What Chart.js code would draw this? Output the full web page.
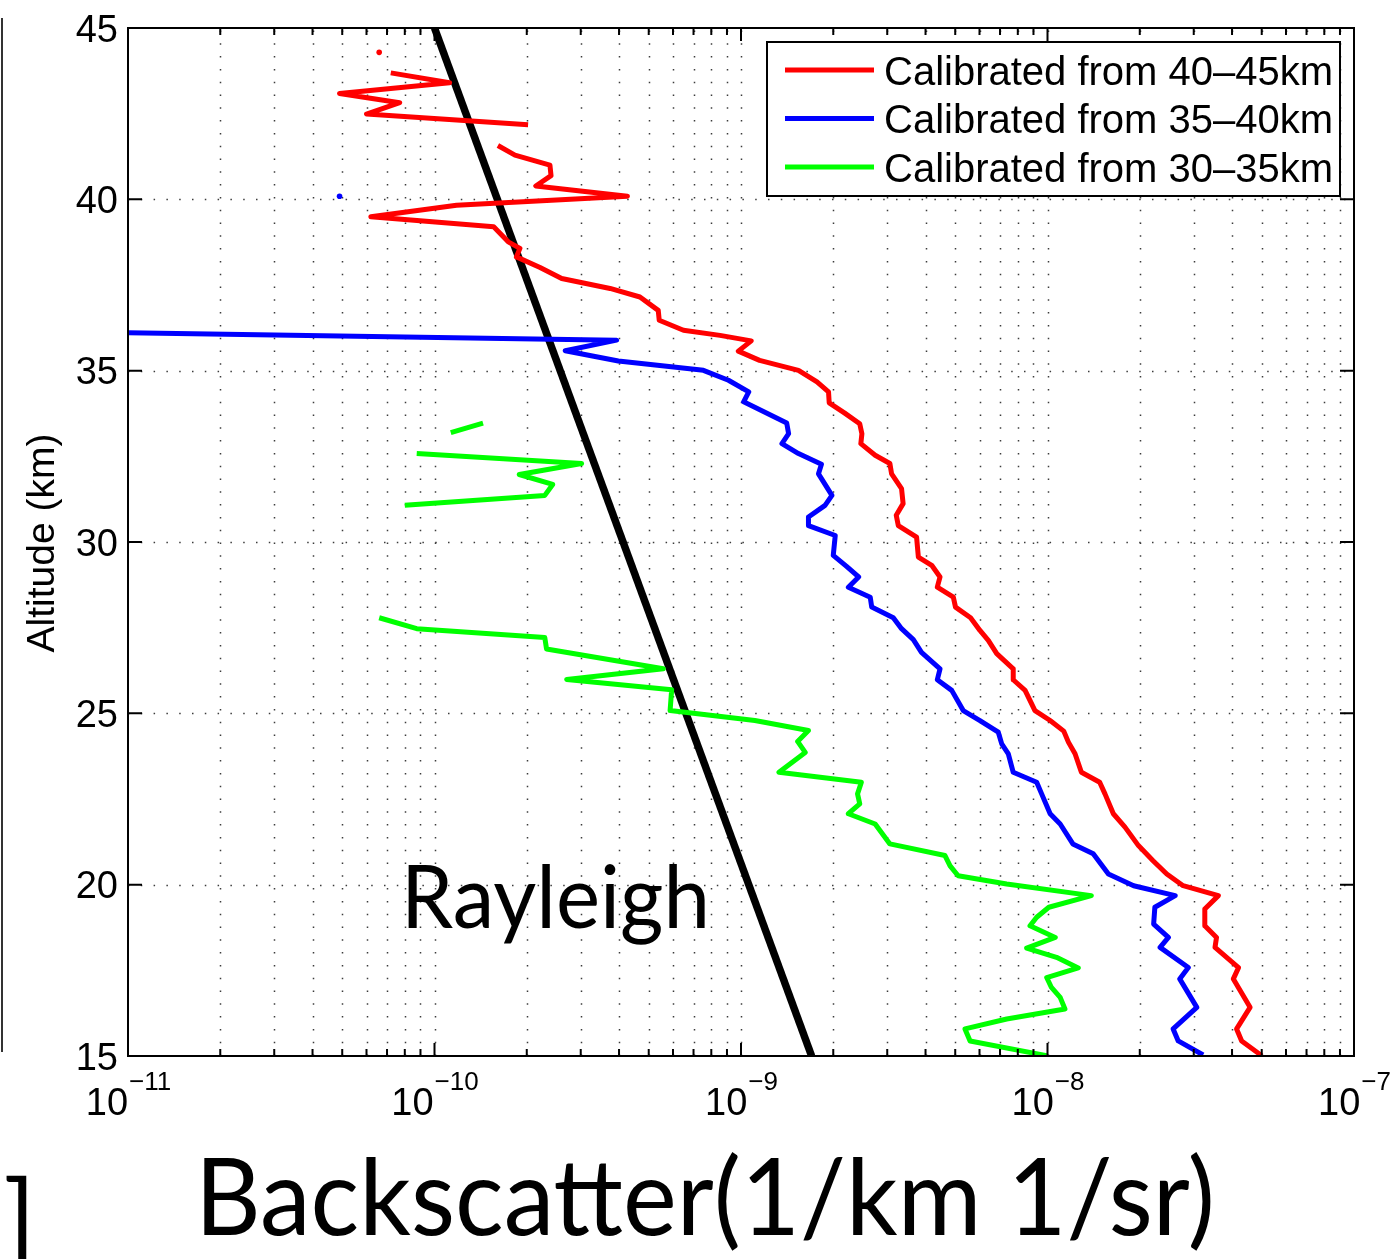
<!DOCTYPE html>
<html>
<head>
<meta charset="utf-8">
<title>Backscatter profile</title>
<script src="https://cdn.jsdelivr.net/npm/chart.js@4.4.1/dist/chart.umd.min.js"></script>
<style>
  html, body { margin: 0; padding: 0; background: #fff; }
  canvas { display: block; }
</style>
</head>
<body>
<canvas id="profile-chart" width="1400" height="1259"></canvas>
<script>
// -----------------------------------------------------------------
// Profiles: altitude (km) against backscatter (1/km 1/sr).
// null marks a gap in the profile (negative / missing samples).
// -----------------------------------------------------------------
const redAlt = [44.29, null,
  43.69, 43.40, 43.09, 42.82, 42.49, 42.18, null,
  41.57, 41.29, 41.00, 40.69, 40.39, 40.09, 39.83, 39.49, 39.20, 38.76,
  38.57, 38.32, 38.01, 37.69, 37.40, 37.15, 36.76, 36.47, 36.18, 36.03,
  35.87, 35.57, 35.30, 35.01, 34.67, 34.38, 34.06, 33.76, 33.45, 33.16,
  32.87, 32.53, 32.29, 31.99, 31.56, 31.12, 30.78, 30.48, 30.14, 29.56,
  29.32, 28.98, 28.68, 28.39, 28.10, 27.79, 27.42, 27.13, 26.74, 26.30,
  25.98, 25.67, 25.08, 24.79, 24.48, 24.16, 23.82, 23.28, 22.99, 22.65,
  22.07, 21.68, 21.14, 20.70, 20.31, 19.97, 19.68, 19.29, 18.80, 18.46,
  18.17, 17.58, 17.25, 16.42, 15.79, 15.44, 15.01];
const redVal = [6.6e-11, null,
  7.2e-11, 1.12e-10, 4.9e-11, 7.7e-11, 6.0e-11, 2.02e-10, null,
  1.61e-10, 1.83e-10, 2.38e-10, 2.40e-10, 2.14e-10, 4.26e-10, 1.18e-10, 6.2e-11, 1.56e-10, 1.74e-10,
  1.90e-10, 1.85e-10, 2.21e-10, 2.60e-10, 3.74e-10, 4.68e-10, 5.37e-10, 5.41e-10, 6.49e-10, 8.54e-10,
  1.08e-9, 9.8e-10, 1.15e-9, 1.54e-9, 1.77e-9, 1.93e-9, 1.94e-9, 2.18e-9, 2.44e-9, 2.48e-9,
  2.46e-9, 2.74e-9, 3.06e-9, 3.10e-9, 3.34e-9, 3.38e-9, 3.21e-9, 3.26e-9, 3.74e-9, 3.79e-9,
  4.19e-9, 4.46e-9, 4.37e-9, 4.93e-9, 5.01e-9, 5.61e-9, 6.02e-9, 6.41e-9, 6.83e-9, 7.73e-9,
  7.73e-9, 8.45e-9, 9.1e-9, 1.02e-8, 1.13e-8, 1.17e-8, 1.23e-8, 1.29e-8, 1.48e-8, 1.54e-8,
  1.64e-8, 1.79e-8, 1.98e-8, 2.21e-8, 2.45e-8, 2.77e-8, 3.61e-8, 3.26e-8, 3.26e-8, 3.56e-8,
  3.52e-8, 4.20e-8, 4.04e-8, 4.58e-8, 4.14e-8, 4.30e-8, 5.0e-8];

const blueAlt = [40.09, null,
  36.11, 35.89, 35.58, 35.28, 35.01, 34.72, 34.38, 34.09, 33.47, 33.16,
  32.87, 32.58, 32.27, 31.99, 31.36, 31.07, 30.73, 30.48, 30.19, 29.61,
  29.29, 28.98, 28.68, 28.39, 28.10, 27.79, 27.47, 27.15, 26.78, 26.30,
  25.98, 25.67, 25.08, 24.79, 24.45, 24.11, 23.82, 23.28, 22.99, 22.65,
  22.07, 21.77, 21.19, 20.90, 20.31, 19.97, 19.68, 19.34, 18.85, 18.46,
  18.17, 17.58, 17.25, 16.42, 15.79, 15.44, 15.03];
const blueVal = [4.9e-11, null,
  1.0e-11, 3.93e-10, 2.67e-10, 3.98e-10, 7.54e-10, 9.1e-10, 1.06e-9, 1.02e-9, 1.41e-9, 1.43e-9,
  1.36e-9, 1.54e-9, 1.83e-9, 1.79e-9, 1.98e-9, 1.88e-9, 1.66e-9, 1.66e-9, 2.03e-9, 2.00e-9,
  2.21e-9, 2.42e-9, 2.24e-9, 2.64e-9, 2.67e-9, 3.14e-9, 3.34e-9, 3.65e-9, 3.88e-9, 4.46e-9,
  4.37e-9, 4.87e-9, 5.31e-9, 6.02e-9, 6.91e-9, 7.09e-9, 7.45e-9, 7.73e-9, 9.22e-9, 9.57e-9,
  1.02e-8, 1.10e-8, 1.21e-8, 1.41e-8, 1.58e-8, 1.91e-8, 2.61e-8, 2.24e-8, 2.22e-8, 2.48e-8,
  2.33e-8, 2.88e-8, 2.70e-8, 3.07e-8, 2.57e-8, 2.67e-8, 3.22e-8];

const greenAlt = [33.47, 33.19, null,
  32.58, 32.29, 31.97, 31.68, 31.36, 31.07, null,
  27.79, 27.47, 27.21, 26.88, 26.30, 25.99, 25.69, 25.08, 24.79, 24.50,
  24.18, 23.86, 23.28, 22.99, 22.65, 22.36, 22.07, 21.77, 21.19, 20.85,
  20.55, 20.26, 20.02, 19.68, 19.34, 19.05, 18.80, 18.46, 18.15, 17.88,
  17.57, 17.29, 17.00, 16.71, 16.37, 16.08, 15.79, 15.44, 15.01];
const greenVal = [1.44e-10, 1.13e-10, null,
  8.75e-11, 3.02e-10, 1.89e-10, 2.43e-10, 2.29e-10, 8.0e-11, null,
  6.6e-11, 8.75e-11, 2.29e-10, 2.32e-10, 5.58e-10, 2.70e-10, 5.94e-10, 5.87e-10, 1.11e-9, 1.66e-9,
  1.53e-9, 1.62e-9, 1.33e-9, 2.47e-9, 2.40e-9, 2.44e-9, 2.24e-9, 2.74e-9, 3.06e-9, 4.63e-9,
  4.81e-9, 5.11e-9, 7.36e-9, 1.39e-8, 1.01e-8, 9.22e-9, 8.77e-9, 1.06e-8, 8.55e-9, 1.07e-8,
  1.26e-8, 9.94e-9, 1.03e-8, 1.10e-8, 1.14e-8, 7.36e-9, 5.38e-9, 5.59e-9, 9.94e-9];

// molecular (Rayleigh) backscatter, straight in log space
const rayleighAlt = [45, 15];
const rayleighVal = [1.0e-10, 1.7e-9];

const seriesLabels = ["Calibrated from 40\u201345km", "Calibrated from 35\u201340km", "Calibrated from 30\u201335km"];
const seriesColors = ["#ff0000", "#0000ff", "#00ff00"];

// axis ticks
const altTicks = [15, 20, 25, 30, 35, 40, 45];
const decadeExps = [-11, -10, -9, -8, -7];
const minorMults = [2, 3, 4, 5, 6, 7, 8, 9];

const AXIS_FONT = '"Liberation Sans", Arial, sans-serif';
const BIG_FONT = 'Lato, "Open Sans", sans-serif';

function toPoints(alts, vals) {
  return alts.map((a, i) => (a === null ? { x: null, y: null } : { x: vals[i], y: a }));
}

// a sample with gaps on both sides is shown as a dot
function isolatedRadius(c) {
  const d = c.dataset.data;
  const i = c.dataIndex;
  if (d[i].y === null) return 0;
  const prev = i > 0 ? d[i - 1].y : null;
  const next = i < d.length - 1 ? d[i + 1].y : null;
  return prev === null && next === null ? 2.8 : 0;
}

function profileDataset(label, alts, vals, color) {
  return {
    label,
    data: toPoints(alts, vals),
    borderColor: color,
    backgroundColor: color,
    borderWidth: 5,
    borderJoinStyle: "round",
    borderCapStyle: "butt",
    pointRadius: isolatedRadius,
    pointBorderWidth: 0,
    pointBackgroundColor: color,
    spanGaps: false,
    tension: 0
  };
}

// dotted grid underneath the profiles
const gridPlugin = {
  id: "dottedGrid",
  beforeDatasetsDraw(chart) {
    const { ctx, chartArea: a, scales: { x, y } } = chart;
    ctx.save();
    ctx.strokeStyle = "#3c3c3c";
    ctx.lineWidth = 1.5;
    ctx.setLineDash([1.5, 11.3]);
    decadeExps.forEach(e => {
      [1, ...minorMults].forEach(m => {
        const v = m * Math.pow(10, e);
        if (v <= x.min || v >= x.max) return;
        const px = Math.round(x.getPixelForValue(v)) + 0.5;
        ctx.beginPath();
        ctx.moveTo(px, a.bottom);
        ctx.lineTo(px, a.top);
        ctx.stroke();
      });
    });
    altTicks.forEach(t => {
      if (t <= y.min || t >= y.max) return;
      const py = Math.round(y.getPixelForValue(t)) + 0.5;
      ctx.beginPath();
      ctx.moveTo(a.left, py);
      ctx.lineTo(a.right, py);
      ctx.stroke();
    });
    ctx.restore();
  }
};

// frame, inward ticks, tick labels, legend and titles
const decorPlugin = {
  id: "decor",
  afterDatasetsDraw(chart) {
    const { ctx, chartArea: a, scales: { x, y } } = chart;
    ctx.save();
    ctx.strokeStyle = "#000";
    ctx.fillStyle = "#000";
    ctx.lineWidth = 2;
    ctx.setLineDash([]);

    // ticks
    ctx.beginPath();
    altTicks.forEach(t => {
      const py = y.getPixelForValue(t);
      ctx.moveTo(a.left, py); ctx.lineTo(a.left + 14, py);
      ctx.moveTo(a.right, py); ctx.lineTo(a.right - 14, py);
    });
    decadeExps.forEach(e => {
      const px = x.getPixelForValue(Math.pow(10, e));
      ctx.moveTo(px, a.bottom); ctx.lineTo(px, a.bottom - 13);
      ctx.moveTo(px, a.top); ctx.lineTo(px, a.top + 13);
      if (e === decadeExps[decadeExps.length - 1]) return;
      minorMults.forEach(m => {
        const mx = x.getPixelForValue(m * Math.pow(10, e));
        ctx.moveTo(mx, a.bottom); ctx.lineTo(mx, a.bottom - 7);
        ctx.moveTo(mx, a.top); ctx.lineTo(mx, a.top + 7);
      });
    });
    ctx.stroke();

    // frame
    ctx.strokeRect(a.left, a.top, a.right - a.left, a.bottom - a.top);

    // y tick labels
    ctx.font = "38px " + AXIS_FONT;
    ctx.textAlign = "right";
    ctx.textBaseline = "alphabetic";
    altTicks.forEach(t => {
      ctx.fillText(String(t), a.left - 10, y.getPixelForValue(t) + 13.6);
    });

    // x tick labels as 10 with superscript exponent
    ctx.textAlign = "left";
    decadeExps.forEach(e => {
      const px = x.getPixelForValue(Math.pow(10, e));
      const sup = "\u2212" + Math.abs(e);
      ctx.font = "38px " + AXIS_FONT;
      const wb = ctx.measureText("10").width;
      ctx.font = "26px " + AXIS_FONT;
      const ws = ctx.measureText(sup).width;
      const left = px - (wb + ws) / 2;
      ctx.font = "38px " + AXIS_FONT;
      ctx.fillText("10", left, a.bottom + 59);
      ctx.font = "26px " + AXIS_FONT;
      ctx.fillText(sup, left + wb + 1, a.bottom + 34);
    });

    // y axis title
    ctx.save();
    ctx.translate(54, 543);
    ctx.rotate(-Math.PI / 2);
    ctx.font = "39px " + AXIS_FONT;
    ctx.textAlign = "center";
    ctx.fillText("Altitude (km)", 0, 0);
    ctx.restore();

    // legend box
    const box = { l: 767, t: 42, r: 1340, b: 196 };
    ctx.fillStyle = "#fff";
    ctx.fillRect(box.l, box.t, box.r - box.l, box.b - box.t);
    ctx.strokeStyle = "#000";
    ctx.lineWidth = 2;
    ctx.strokeRect(box.l, box.t, box.r - box.l, box.b - box.t);
    ctx.font = "40px " + AXIS_FONT;
    ctx.textAlign = "left";
    seriesLabels.forEach((lbl, i) => {
      const ly = 70 + i * 48.5;
      ctx.strokeStyle = seriesColors[i];
      ctx.lineWidth = 5;
      ctx.beginPath();
      ctx.moveTo(785, ly);
      ctx.lineTo(874, ly);
      ctx.stroke();
      ctx.fillStyle = "#000";
      ctx.fillText(lbl, 884, ly + 14.5);
    });
    ctx.restore();
  },
  afterDraw(chart) {
    const { ctx } = chart;
    ctx.save();
    ctx.fillStyle = "#000";
    ctx.textAlign = "left";
    ctx.textBaseline = "alphabetic";
    drawFitted(ctx, "Rayleigh", "88px " + BIG_FONT, 401, 928, 309);
    drawFitted(ctx, "Backscatter(1/km 1/sr)", "107px " + BIG_FONT, 195, 1235, 1020);
    ctx.font = "107px " + BIG_FONT;
    ctx.textAlign = "right";
    ctx.fillText("]", 36, 1258);

    // edge of the neighbouring panel
    ctx.strokeStyle = "#333";
    ctx.lineWidth = 2;
    ctx.beginPath();
    ctx.moveTo(2, 18);
    ctx.lineTo(2, 1052);
    ctx.stroke();
    ctx.restore();
  }
};

// draw text squeezed/stretched to a given width
function drawFitted(ctx, text, font, left, baseline, width) {
  ctx.font = font;
  const w = ctx.measureText(text).width;
  ctx.save();
  ctx.translate(left, baseline);
  ctx.scale(width / w, 1);
  ctx.fillText(text, 0, 0);
  ctx.restore();
}

const profileChart = new Chart(document.getElementById("profile-chart").getContext("2d"), {
  type: "line",
  data: {
    datasets: [
      profileDataset(seriesLabels[0], redAlt, redVal, seriesColors[0]),
      profileDataset(seriesLabels[1], blueAlt, blueVal, seriesColors[1]),
      profileDataset(seriesLabels[2], greenAlt, greenVal, seriesColors[2]),
      {
        label: "Rayleigh",
        data: toPoints(rayleighAlt, rayleighVal),
        borderColor: "#000",
        borderWidth: 7.5,
        pointRadius: 0,
        clip: 0
      }
    ]
  },
  options: {
    responsive: false,
    animation: false,
    devicePixelRatio: 1,
    layout: { padding: { left: 128, right: 46, top: 28, bottom: 203 } },
    scales: {
      x: { type: "logarithmic", min: 1e-11, max: 1e-7, display: false },
      y: { type: "linear", min: 15, max: 45, display: false }
    },
    plugins: {
      legend: { display: false },
      tooltip: { enabled: false }
    }
  },
  plugins: [gridPlugin, decorPlugin]
});
</script>
</body>
</html>
